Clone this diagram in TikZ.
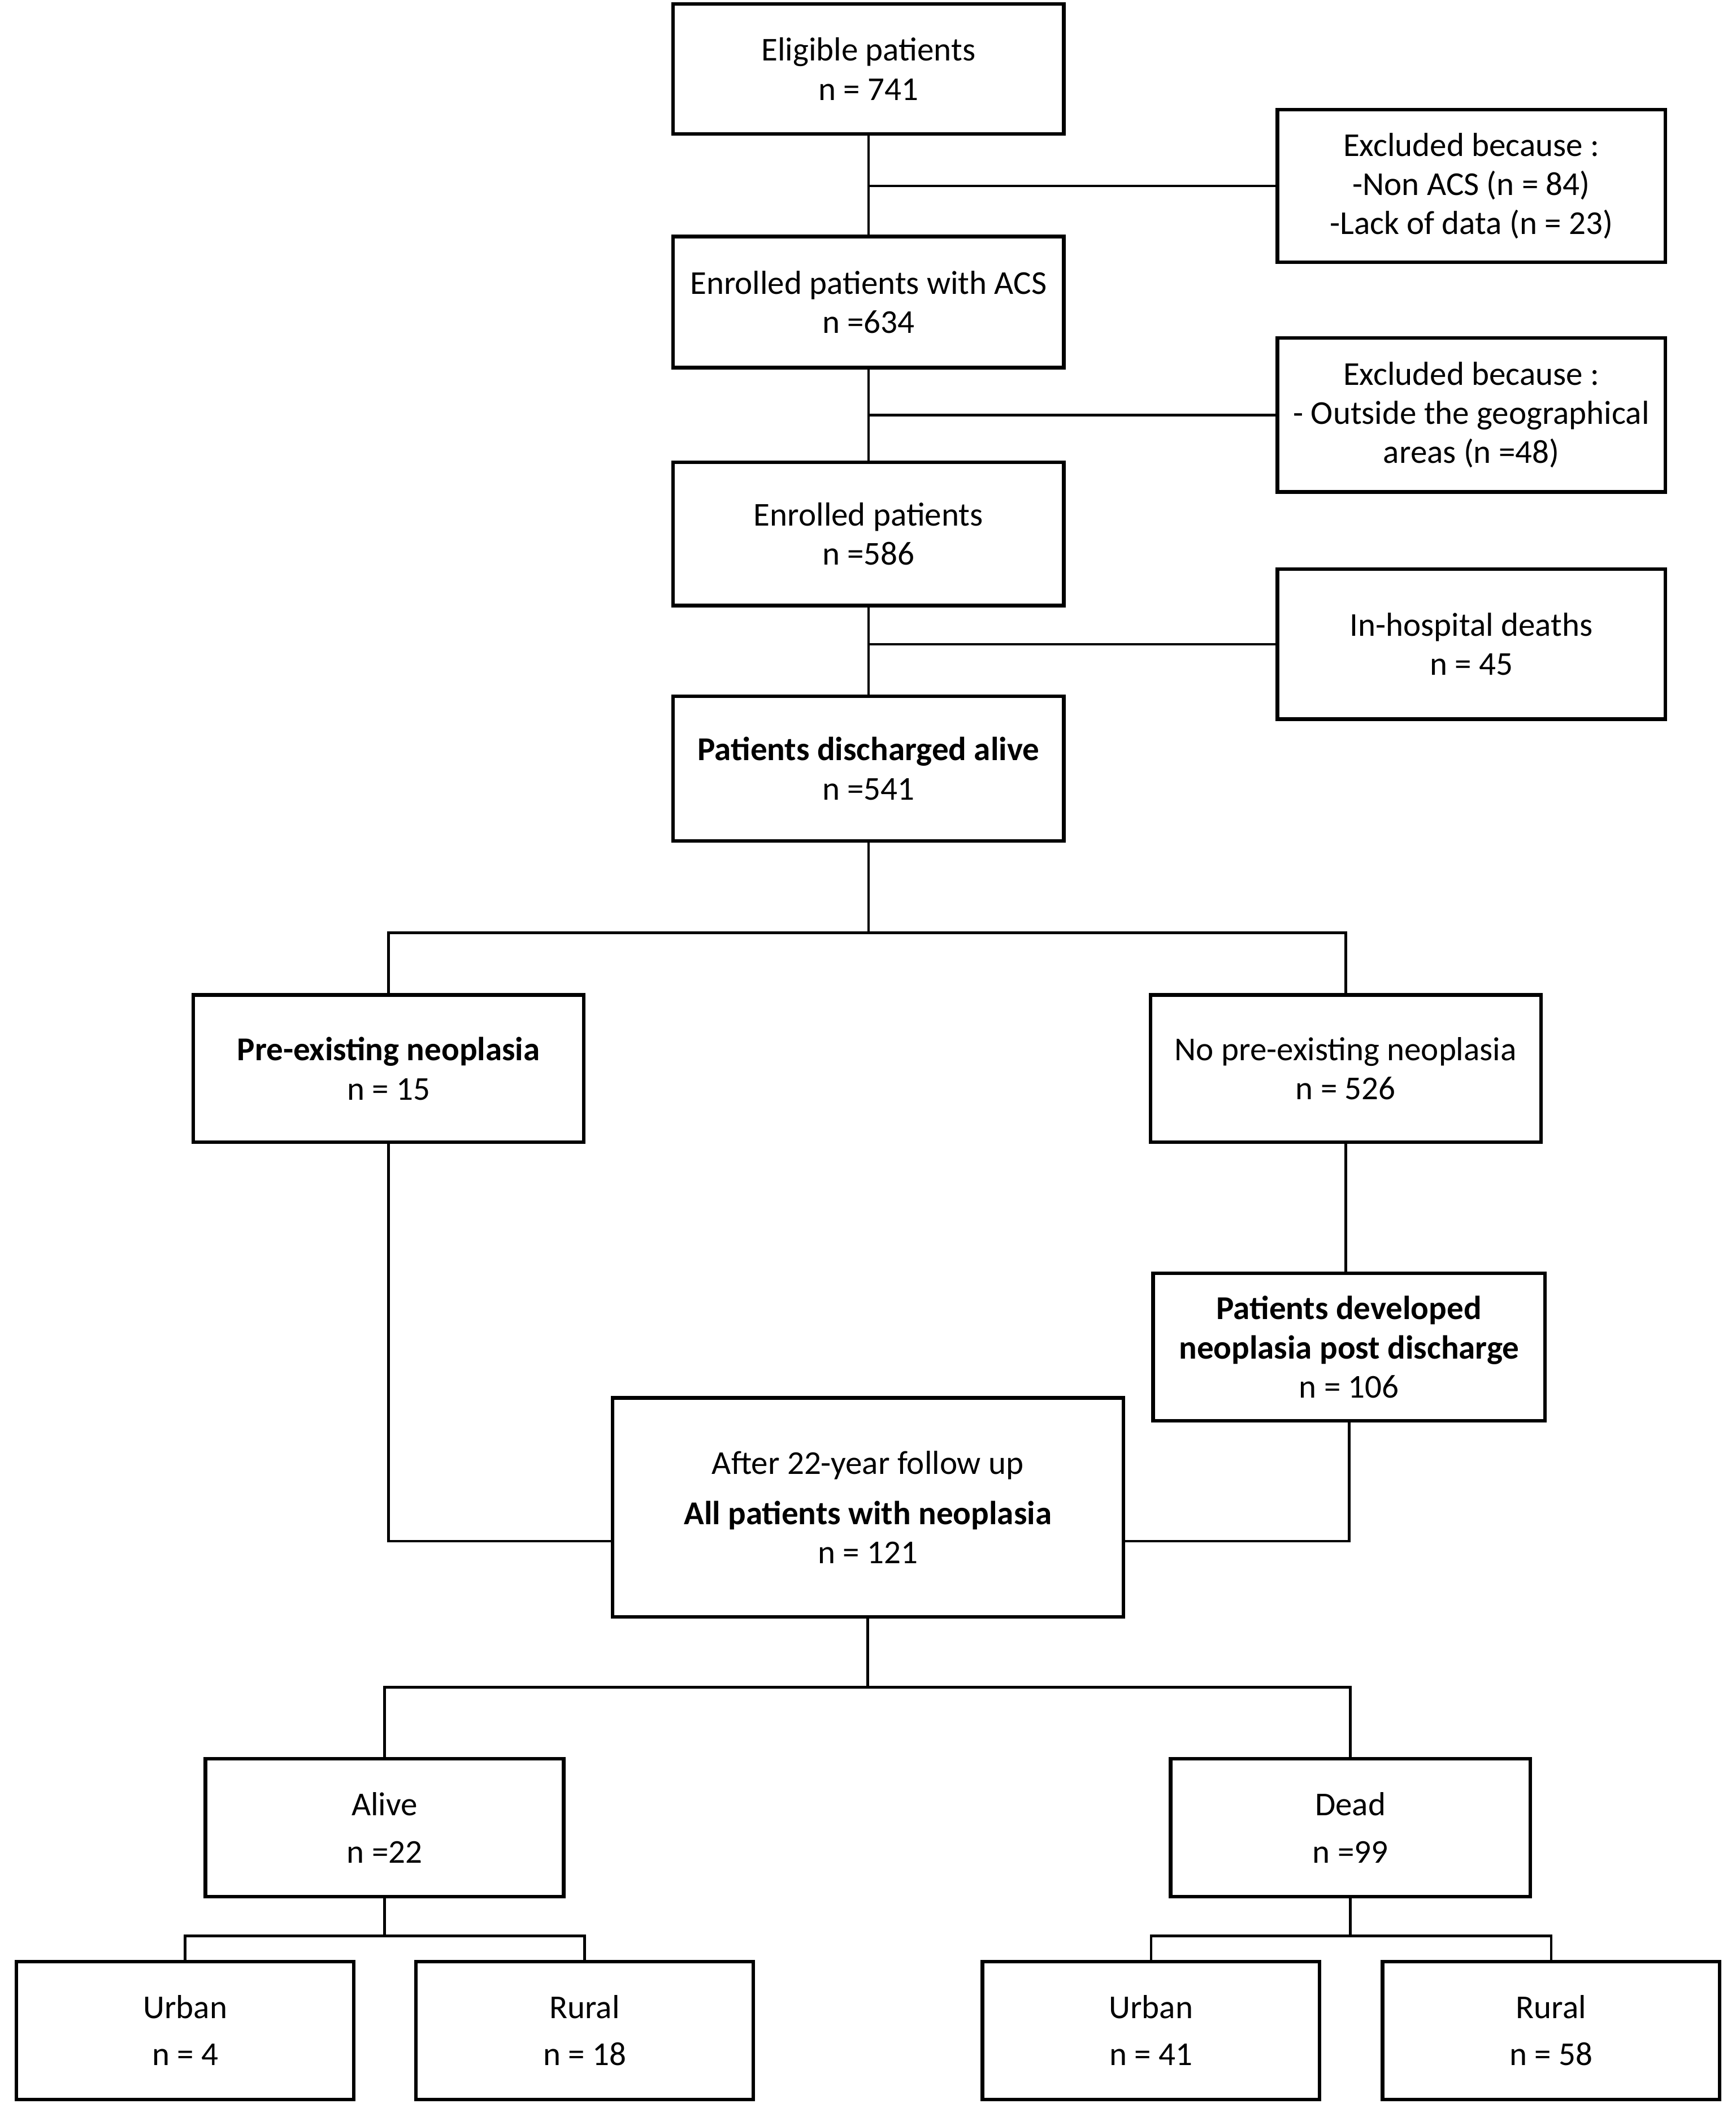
\documentclass[tikz,border=0pt]{standalone}
\usepackage{fontspec}
\setmainfont{Carlito}
\begin{document}
\begin{tikzpicture}[x=0.02392cm, y=-0.02392cm,
  box/.style={draw=black, line width=1.8pt, align=center, inner sep=0pt,
    font=\fontsize{16.8}{19.7}\selectfont, text=black},
  conn/.style={draw=black, line width=1.3pt},
  main/.style={box, minimum width=6.913cm},
  side/.style={box, minimum width=6.865cm},
  leaf/.style={box, minimum width=5.97cm, minimum height=2.44cm}]
\useasboundingbox (0,0) rectangle (1284,1569);

\node[main, minimum height=2.296cm] (elig) at (642.5,51) {Eligible patients\\n = 741};
\node[side, minimum height=2.703cm] (exc1) at (1088.5,137.5) {Excluded because :\\-Non ACS (n = 84)\\-Lack of data (n = 23)};
\node[main, minimum height=2.320cm] (acs) at (642.5,223.5) {Enrolled patients with ACS\\n =634};
\node[side, minimum height=2.727cm] (exc2) at (1088.5,307) {Excluded because :\\- Outside the geographical\\areas (n =48)};
\node[main, minimum height=2.536cm] (enr) at (642.5,395) {Enrolled patients\\n =586};
\node[side, minimum height=2.655cm] (dth) at (1088.5,476.5) {In-hospital deaths\\n = 45};
\node[main, minimum height=2.559cm] (dis) at (642.5,568.5) {\textbf{Patients discharged alive}\\n =541};

\node[main, minimum height=2.607cm] (pre) at (287.5,790.5) {\textbf{Pre-existing neoplasia}\\n = 15};
\node[main, minimum height=2.607cm] (nopre) at (995.5,790.5) {No pre-existing neoplasia\\n = 526};
\node[box, minimum width=6.937cm, minimum height=2.607cm] (dev) at (998,996.5) {\textbf{Patients developed}\\\textbf{neoplasia post discharge}\\n = 106};
\node[box, minimum width=9.042cm, minimum height=3.875cm] (after) at (642,1115) {After 22-year follow up\\[5.4pt]\textbf{All patients with neoplasia}\\n = 121};

\node[box, minimum width=6.339cm, minimum height=2.44cm] (alive) at (284.5,1352) {Alive\\[4pt]n =22};
\node[box, minimum width=6.363cm, minimum height=2.44cm] (dead) at (999,1352) {Dead\\[4pt]n =99};

\node[leaf] (u1) at (137,1502) {Urban\\[4pt]n = 4};
\node[leaf] (r1) at (432.5,1502) {Rural\\[4pt]n = 18};
\node[leaf] (u2) at (851.5,1502) {Urban\\[4pt]n = 41};
\node[leaf] (r2) at (1147.5,1502) {Rural\\[4pt]n = 58};

% main spine
\draw[conn] (elig.south) -- (acs.north);
\draw[conn] (acs.south) -- (enr.north);
\draw[conn] (enr.south) -- (dis.north);
\draw[conn] (elig.south |- exc1.west) -- (exc1.west);
\draw[conn] (acs.south |- exc2.west) -- (exc2.west);
\draw[conn] (enr.south |- dth.west) -- (dth.west);

% split after discharge
\coordinate (split1) at (642.5,690);
\draw[conn] (dis.south) -- (split1);
\draw[conn] (pre.north) |- (split1) -| (nopre.north);

% neoplasia branches
\draw[conn] (nopre.south) -- (nopre.south |- dev.north);
\draw[conn] (pre.south) |- ([yshift=-0.598cm]after.west);
\draw[conn] (dev.south) |- ([yshift=-0.598cm]after.east);

% outcome split
\coordinate (split2) at (642,1248);
\draw[conn] (after.south) -- (split2);
\draw[conn] (alive.north) |- (split2) -| (dead.north);

% residence splits
\coordinate (split3) at (284.5,1432);
\draw[conn] (alive.south) -- (split3);
\draw[conn] (u1.north) |- (split3) -| (r1.north);
\coordinate (split4) at (999,1432);
\draw[conn] (dead.south) -- (split4);
\draw[conn] (u2.north) |- (split4) -| (r2.north);
\end{tikzpicture}
\end{document}
